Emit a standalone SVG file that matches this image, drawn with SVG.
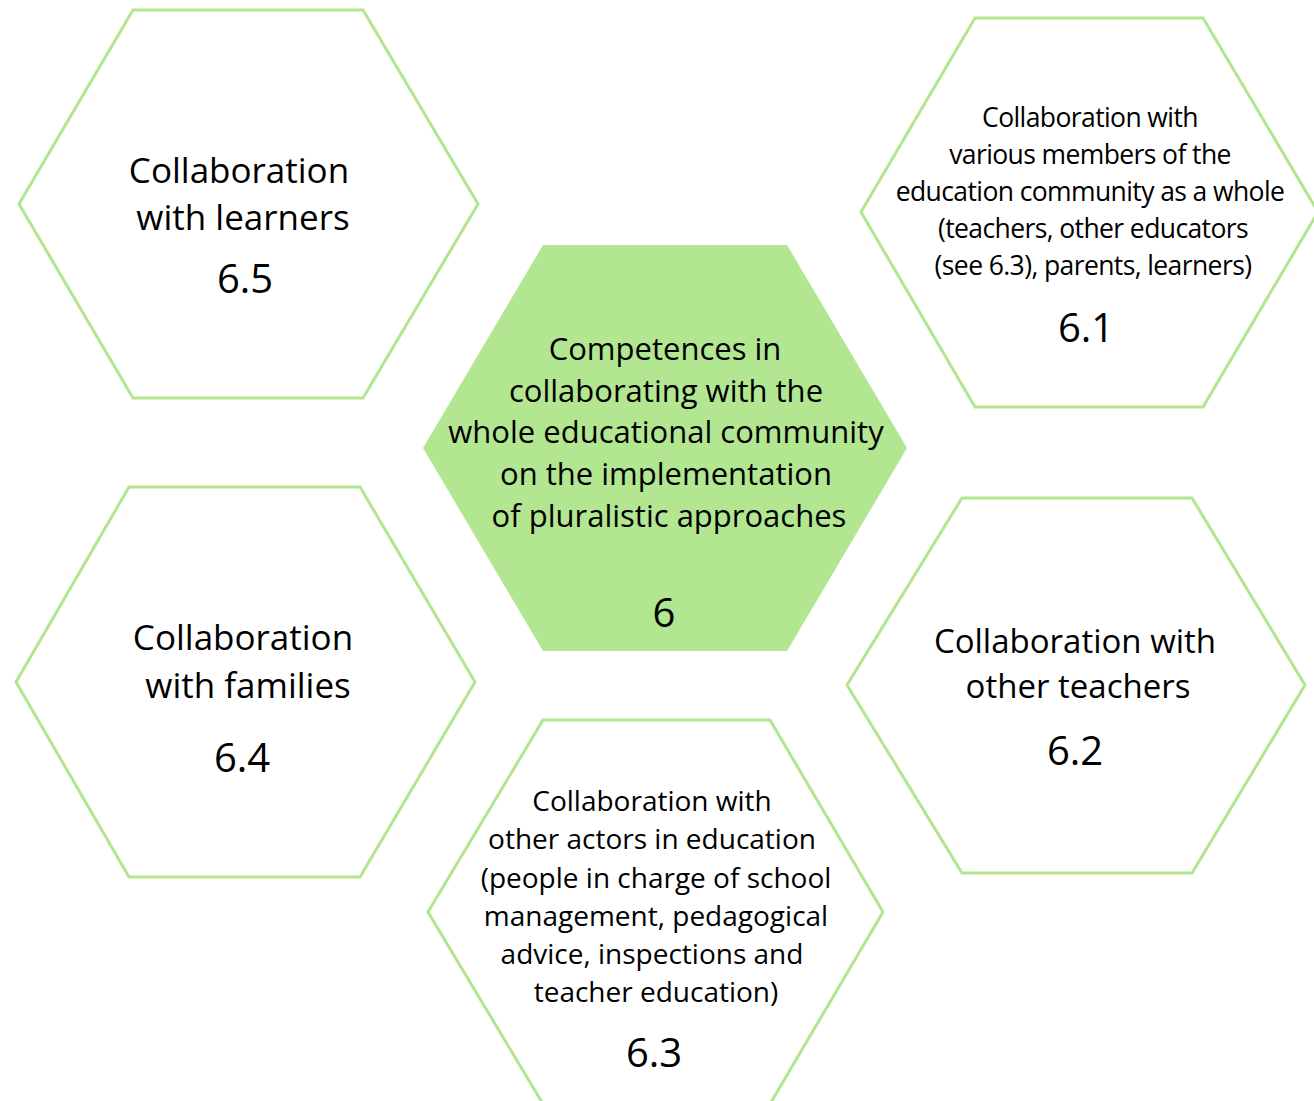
<svg xmlns="http://www.w3.org/2000/svg" width="1314" height="1101" viewBox="0 0 1314 1101">
<style>
.hex{fill:#ffffff;stroke:#b3e58f;stroke-width:3}
.core{fill:#b2e690;stroke:none}
text{font-family:"Open Sans","Noto Sans",sans-serif;fill:#000;text-anchor:middle}
.big{font-size:35px}
.big2{font-size:33px}
.num{font-size:40px}
.mid{font-size:28px}
.small{font-size:26.5px;letter-spacing:-0.6px}
.ctr{font-size:31px}
</style>
<rect width="1314" height="1101" fill="#ffffff"/>
<g id="connectors"></g>
<g id="node-6-5">
<polygon class="hex" points="133,10 363,10 478,204 363,398 133,398 19,204"/>
<text class="big" x="239" y="183">Collaboration</text>
<text class="big" x="243" y="230">with learners</text>
<text class="num" x="245" y="293">6.5</text>
</g>
<g id="node-6-1">
<polygon class="hex" points="975,18 1203,18 1318,212 1203,407 975,407 861,212"/>
<text class="small" x="1090" y="127">Collaboration with</text>
<text class="small" x="1090" y="164">various members of the</text>
<text class="small" x="1090" y="201">education community as a whole</text>
<text class="small" x="1093" y="238">(teachers, other educators</text>
<text class="small" x="1093" y="275">(see 6.3), parents, learners)</text>
<text class="num" x="1086" y="342">6.1</text>
</g>
<g id="node-6">
<polygon class="core" points="543,245 787,245 907,448 787,651 543,651 423,448"/>
<text class="ctr" x="665" y="360">Competences in</text>
<text class="ctr" x="666" y="402">collaborating with the</text>
<text class="ctr" x="666" y="443">whole educational community</text>
<text class="ctr" x="666" y="485">on the implementation</text>
<text class="ctr" x="669" y="527">of pluralistic approaches</text>
<text class="num" x="664" y="627">6</text>
</g>
<g id="node-6-4">
<polygon class="hex" points="129,487 360,487 475,682 360,877 129,877 16,682"/>
<text class="big" x="243" y="650">Collaboration</text>
<text class="big" x="248" y="698">with families</text>
<text class="num" x="242" y="772">6.4</text>
</g>
<g id="node-6-2">
<polygon class="hex" points="962,498 1192,498 1305,685 1192,873 962,873 847,685"/>
<text class="big2" x="1075" y="653">Collaboration with</text>
<text class="big2" x="1078" y="698">other teachers</text>
<text class="num" x="1075" y="765">6.2</text>
</g>
<g id="node-6-3">
<polygon class="hex" points="543,720 770,720 883,912 770,1104 543,1104 428,912"/>
<text class="mid" x="652" y="811">Collaboration with</text>
<text class="mid" x="652" y="849">other actors in education</text>
<text class="mid" x="656" y="888">(people in charge of school</text>
<text class="mid" x="656" y="926">management, pedagogical</text>
<text class="mid" x="652" y="964">advice, inspections and</text>
<text class="mid" x="656" y="1002">teacher education)</text>
<text class="num" x="654" y="1067">6.3</text>
</g>
</svg>
